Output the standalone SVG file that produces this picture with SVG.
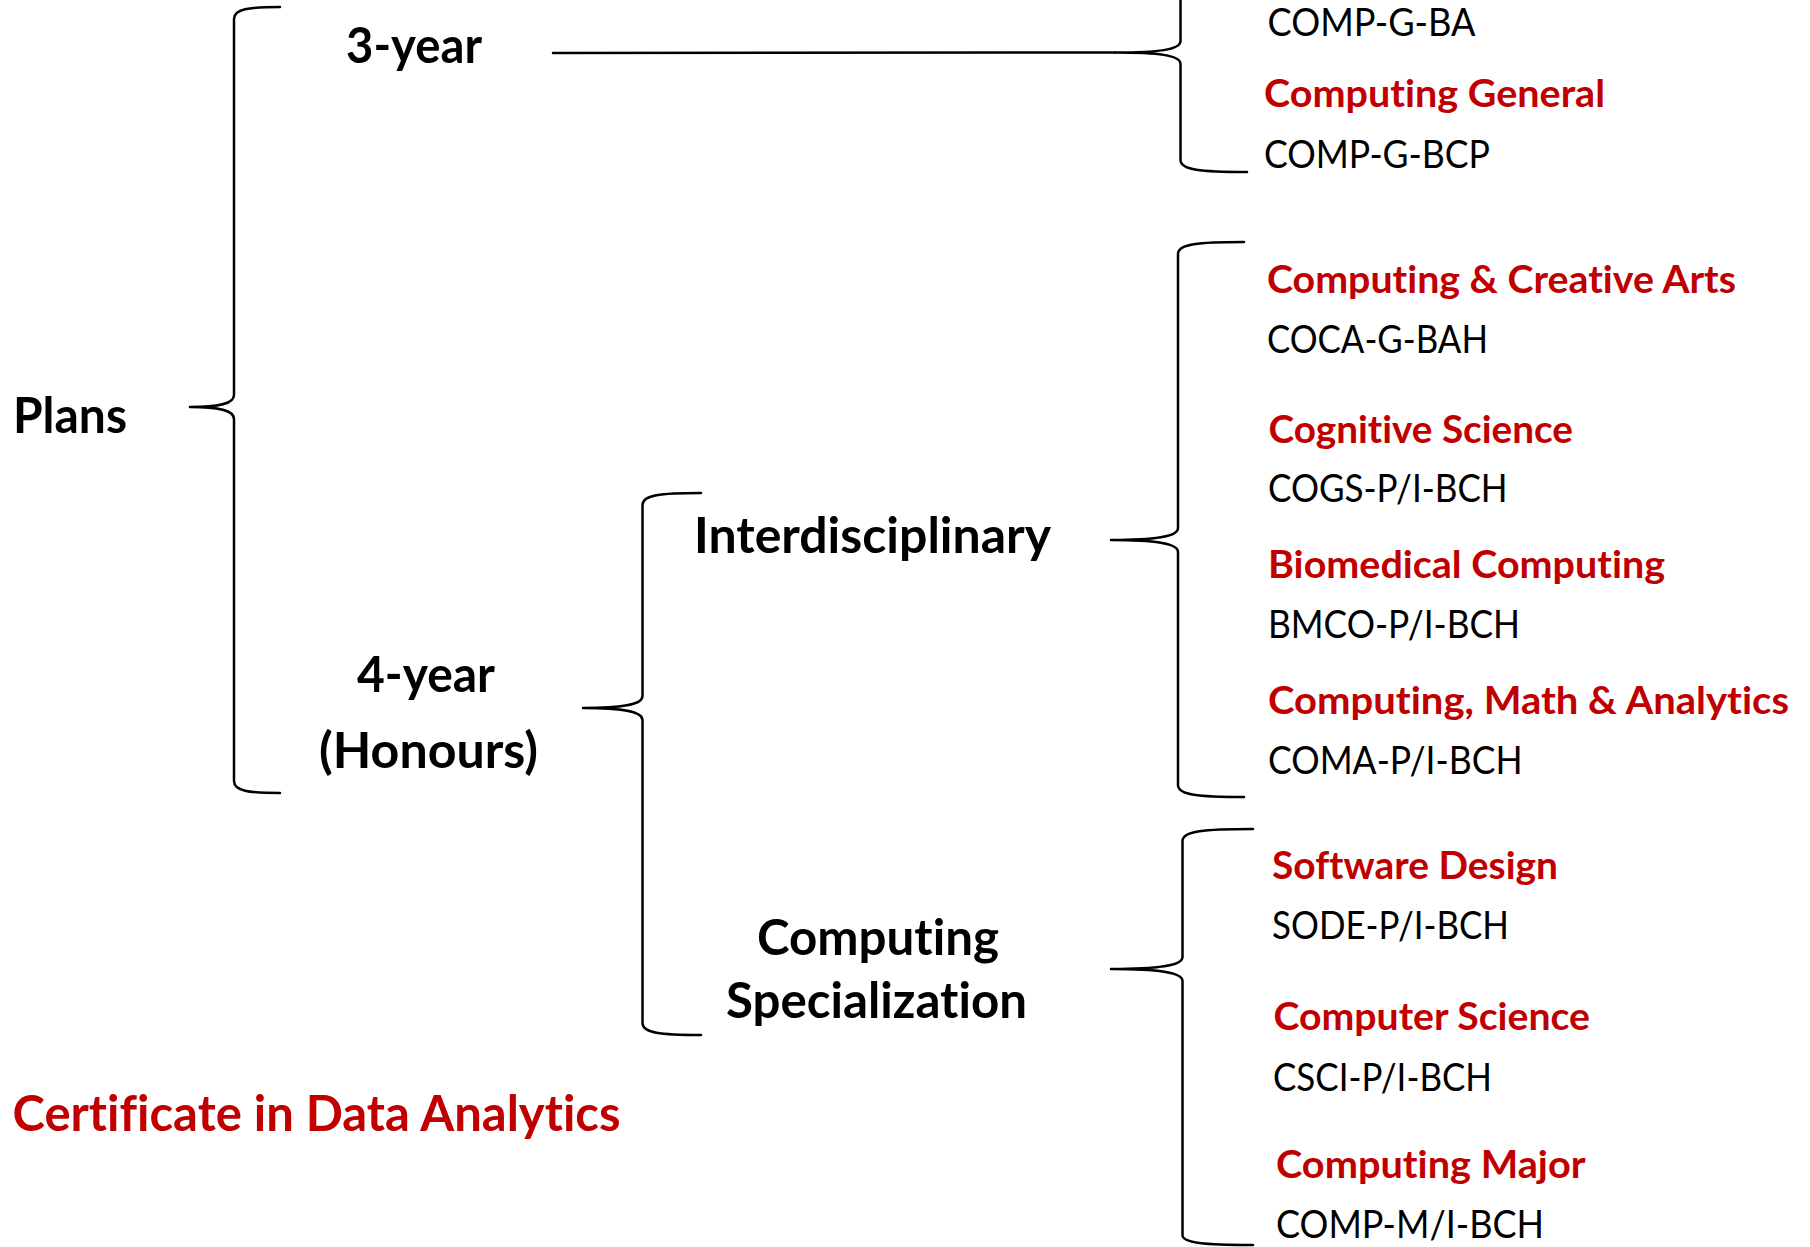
<svg xmlns="http://www.w3.org/2000/svg" width="1810" height="1247" viewBox="0 0 1810 1247">
<style>
text{font-family:Lato,"Liberation Sans",sans-serif;font-variant-ligatures:none;font-feature-settings:"liga" 0,"clig" 0}
.b{font-weight:700;font-size:50px;fill:#000}
.br{font-weight:700;font-size:50px;fill:#C00000}
.r{font-weight:700;font-size:38px;fill:#C00000}
.c{font-weight:400;font-size:38.5px;fill:#000}
.k{fill:none;stroke:#000;stroke-width:2.5;stroke-linecap:round;stroke-linejoin:round}
</style>
<rect width="1810" height="1247" fill="#fff"/>
<g id="connectors">
<path class="k" d="M280,7 C248,7 234,9 234,19 L234,395 C234,404 219,407 190,407 C219,407 234,410 234,419 L234,781 C234,791 248,793 280,793"/>
<path class="k" d="M553,53 L1115,52.5"/>
<path class="k" d="M1247,-70 C1200,-70 1180.5,-68 1180.5,-58 L1180.5,41 C1180.5,50 1157.5,52.5 1115,52.5 C1157.5,52.5 1180.5,55 1180.5,64 L1180.5,160 C1180.5,170 1200.5,172 1247,172"/>
<path class="k" d="M701,493 C660,493 642.5,495 642.5,505 L642.5,696 C642.5,705 621.5,708 583,708 C621.5,708 642.5,711 642.5,720 L642.5,1023 C642.5,1033 660,1035 701,1035"/>
<path class="k" d="M1244,242 C1198,242 1178,244 1178,254 L1178,528 C1178,537 1154.5,540 1111,540 C1154.5,540 1178,543 1178,552 L1178,785 C1178,795 1198,797 1244,797"/>
<path class="k" d="M1253,829 C1204,829 1182.5,831 1182.5,841 L1182.5,957 C1182.5,966 1157.5,969 1111,969 C1157.5,969 1182.5,972 1182.5,981 L1182.5,1235 C1182.5,1243 1204,1245 1253,1245"/>
</g>
<g id="plans"><text class="b" x="13" y="433" textLength="114" lengthAdjust="spacingAndGlyphs">Plans</text></g>
<g id="three-year"><text class="b" x="346" y="63" textLength="136" lengthAdjust="spacingAndGlyphs">3-year</text></g>
<g id="four-year">
<text class="b" x="357" y="692" textLength="138" lengthAdjust="spacingAndGlyphs">4-year</text>
<text class="b" x="319" y="768" textLength="219" lengthAdjust="spacingAndGlyphs">(Honours)</text>
</g>
<g id="interdisciplinary"><text class="b" x="694" y="553" textLength="357" lengthAdjust="spacingAndGlyphs">Interdisciplinary</text></g>
<g id="computing-specialization">
<text class="b" x="757" y="955" textLength="242" lengthAdjust="spacingAndGlyphs">Computing</text>
<text class="b" x="726" y="1018" textLength="301" lengthAdjust="spacingAndGlyphs">Specialization</text>
</g>
<g id="certificate"><text class="br" x="12.5" y="1131" textLength="608" lengthAdjust="spacingAndGlyphs">Certificate in Data Analytics</text></g>
<g id="comp-g-ba"><text class="c" x="1267.6" y="36" textLength="208" lengthAdjust="spacingAndGlyphs">COMP-G-BA</text></g>
<g id="computing-general">
<text class="r" x="1264" y="107" textLength="341" lengthAdjust="spacingAndGlyphs">Computing General</text>
<text class="c" x="1264" y="168" textLength="226" lengthAdjust="spacingAndGlyphs">COMP-G-BCP</text>
</g>
<g id="computing-creative-arts">
<text class="r" x="1267" y="292.5" textLength="469" lengthAdjust="spacingAndGlyphs">Computing &amp; Creative Arts</text>
<text class="c" x="1267" y="353" textLength="221" lengthAdjust="spacingAndGlyphs">COCA-G-BAH</text>
</g>
<g id="cognitive-science">
<text class="r" x="1268.5" y="442.5" textLength="304.5" lengthAdjust="spacingAndGlyphs">Cognitive Science</text>
<text class="c" x="1268" y="502" textLength="239.6" lengthAdjust="spacingAndGlyphs">COGS-P/I-BCH</text>
</g>
<g id="biomedical-computing">
<text class="r" x="1268" y="578" textLength="397" lengthAdjust="spacingAndGlyphs">Biomedical Computing</text>
<text class="c" x="1268" y="638" textLength="252" lengthAdjust="spacingAndGlyphs">BMCO-P/I-BCH</text>
</g>
<g id="computing-math-analytics">
<text class="r" x="1268" y="714" textLength="521" lengthAdjust="spacingAndGlyphs">Computing, Math &amp; Analytics</text>
<text class="c" x="1268" y="774" textLength="254.5" lengthAdjust="spacingAndGlyphs">COMA-P/I-BCH</text>
</g>
<g id="software-design">
<text class="r" x="1272" y="879" textLength="286" lengthAdjust="spacingAndGlyphs">Software Design</text>
<text class="c" x="1272" y="939" textLength="237" lengthAdjust="spacingAndGlyphs">SODE-P/I-BCH</text>
</g>
<g id="computer-science">
<text class="r" x="1273.5" y="1030" textLength="316.5" lengthAdjust="spacingAndGlyphs">Computer Science</text>
<text class="c" x="1273" y="1091" textLength="219" lengthAdjust="spacingAndGlyphs">CSCI-P/I-BCH</text>
</g>
<g id="computing-major">
<text class="r" x="1276" y="1178" textLength="309.5" lengthAdjust="spacingAndGlyphs">Computing Major</text>
<text class="c" x="1276" y="1238" textLength="268" lengthAdjust="spacingAndGlyphs">COMP-M/I-BCH</text>
</g>
</svg>
